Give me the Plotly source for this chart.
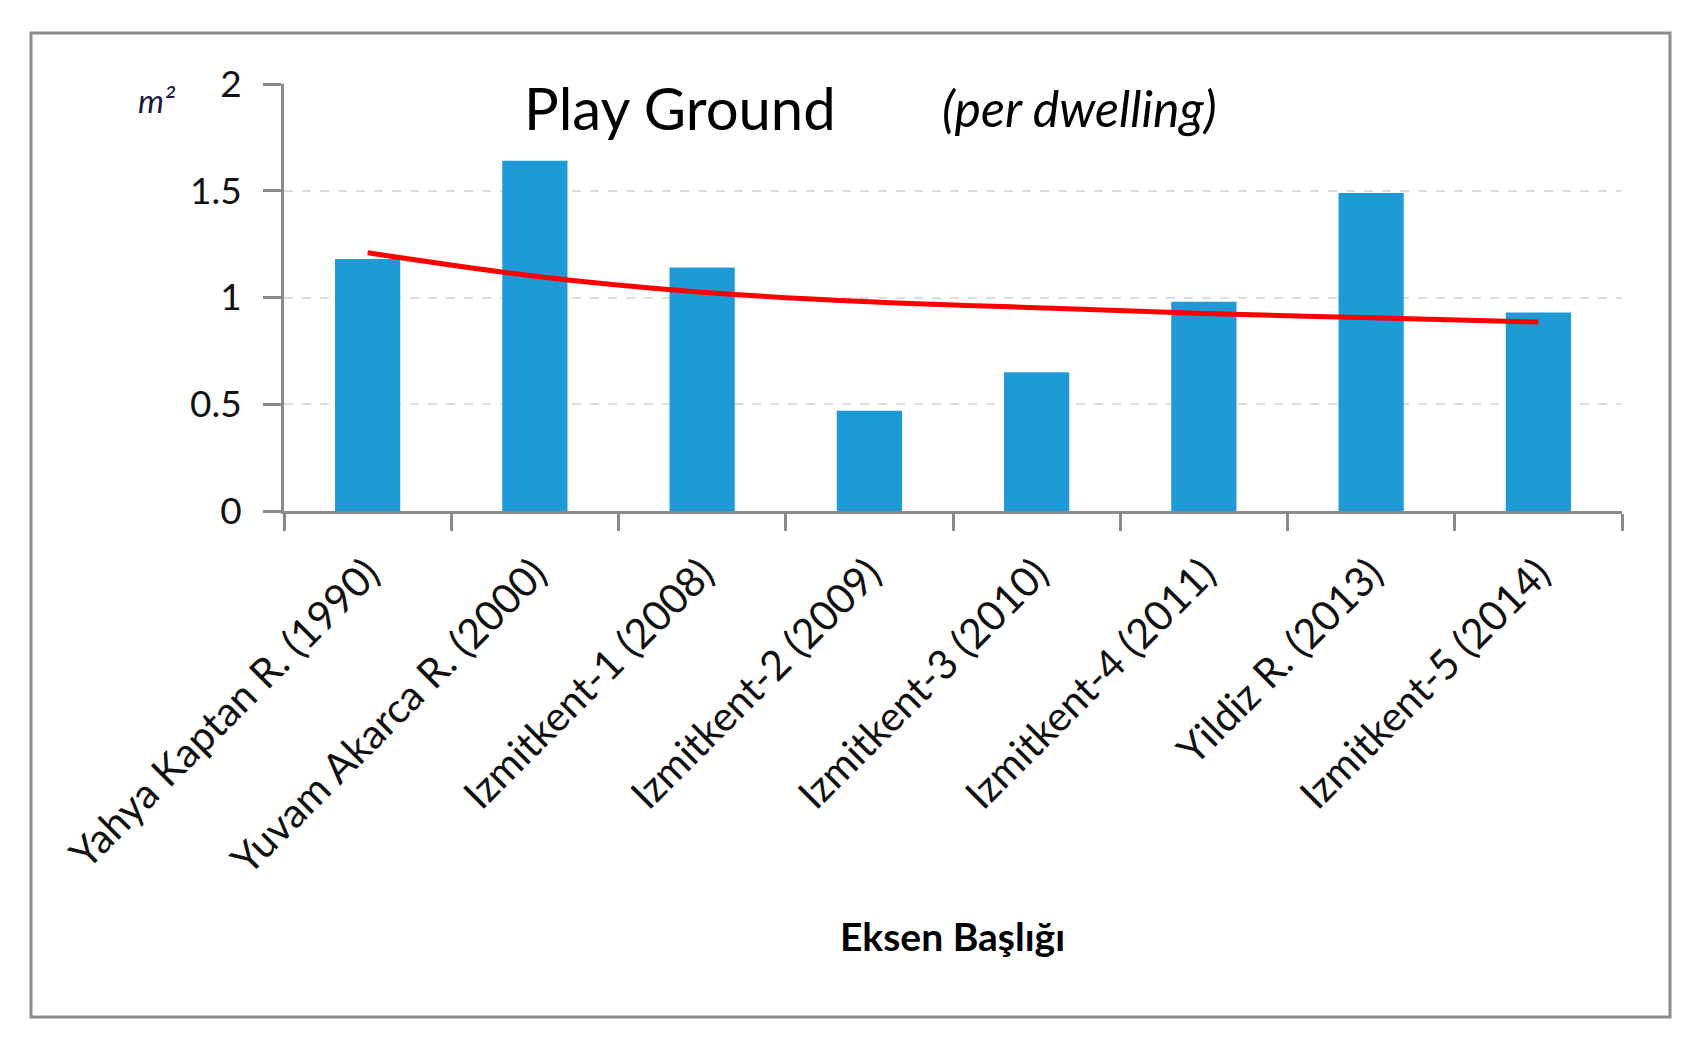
import plotly.graph_objects as go

categories = [
    "Yahya Kaptan R. (1990)",
    "Yuvam Akarca R. (2000)",
    "Izmitkent-1 (2008)",
    "Izmitkent-2 (2009)",
    "Izmitkent-3 (2010)",
    "Izmitkent-4 (2011)",
    "Yildiz R. (2013)",
    "Izmitkent-5 (2014)",
]
values = [1.18, 1.64, 1.14, 0.47, 0.65, 0.98, 1.49, 0.93]
# trend line values at each category
trend = [1.21, 1.10, 1.025, 0.98, 0.952, 0.925, 0.905, 0.885]
y_ticks = [0, 0.5, 1, 1.5, 2]
y_tick_labels = ["0", "0.5", "1", "1.5", "2"]

OFF = 8  # default page body margin
W, H = 1702 - 2 * OFF, 1044 - 2 * OFF
L, R, T, B = 284 - OFF, 1622 - OFF, 84 - OFF, 511 - OFF  # plot area (figure pixels)
pw, ph = R - L, B - T

def px(x):  # page pixel x -> paper
    return (x - OFF - L) / pw

def py(y):  # page pixel y -> paper
    return (B - (y - OFF)) / ph

FONT = "Lato, 'Open Sans', sans-serif"
AXC = "#8a8a8a"

fig = go.Figure()
fig.add_trace(go.Bar(
    x=categories, y=values, marker=dict(color="#1E9BD7", line=dict(width=0)),
    showlegend=False,
))
fig.add_trace(go.Scatter(
    x=categories, y=trend, mode="lines",
    line=dict(color="#FF0000", width=5, shape="spline"),
    showlegend=False,
))

fig.update_layout(
    width=W, height=H, autosize=False,
    margin=dict(l=L, r=W - R, t=T, b=H - B, pad=0),
    paper_bgcolor="white", plot_bgcolor="white",
    bargap=0.61,
    font=dict(family=FONT, color="#111111"),
    xaxis=dict(
        type="category", categoryorder="array", categoryarray=categories,
        tickson="boundaries", ticks="outside", ticklen=17, tickwidth=2.5, tickcolor=AXC,
        showline=True, linecolor=AXC, linewidth=3, showgrid=False,
        tickangle=-45, tickfont=dict(size=41, family=FONT, color="#111111"),
        ticklabelstandoff=19, automargin=False,
    ),
    yaxis=dict(
        range=[0, 2], tickvals=y_ticks, ticktext=y_tick_labels,
        ticks="outside", ticklen=18, tickwidth=2.5, tickcolor=AXC,
        showline=True, linecolor=AXC, linewidth=3,
        showgrid=True, gridcolor="#dcdcdc", griddash="dash", gridwidth=2,
        zeroline=False, tickfont=dict(size=37, family=FONT, color="#111111"),
        ticklabelstandoff=14, automargin=False,
    ),
    shapes=[
        dict(type="rect", xref="paper", yref="paper",
             x0=px(31), x1=px(1670), y0=py(1017), y1=py(33),
             line=dict(color="#8c8c8c", width=3), fillcolor="rgba(0,0,0,0)", layer="below"),
        dict(type="rect", xref="paper", yref="paper",
             x0=px(444), x1=px(1251), y0=py(140), y1=py(70),
             line=dict(width=0), fillcolor="white", layer="between"),
    ],
    annotations=[
        dict(text="Play Ground", xref="paper", yref="paper", x=px(522), y=py(108),
             xanchor="left", yanchor="middle", showarrow=False,
             font=dict(size=58, family=FONT, color="#000000")),
        dict(text="<i>(per dwelling)</i>", xref="paper", yref="paper", x=px(940), y=py(108),
             xanchor="left", yanchor="middle", showarrow=False,
             font=dict(size=50, family=FONT, color="#000000")),
        dict(text="<i>m²</i>", xref="paper", yref="paper", x=px(157), y=py(100),
             xanchor="center", yanchor="middle", showarrow=False,
             font=dict(size=33, family=FONT, color="#1a1a40")),
        dict(text="<b>Eksen Başlığı</b>", xref="paper", yref="paper", x=px(952), y=py(936),
             xanchor="center", yanchor="middle", showarrow=False,
             font=dict(size=39, family=FONT, color="#000000")),
    ],
)

fig.write_html("out.html")
